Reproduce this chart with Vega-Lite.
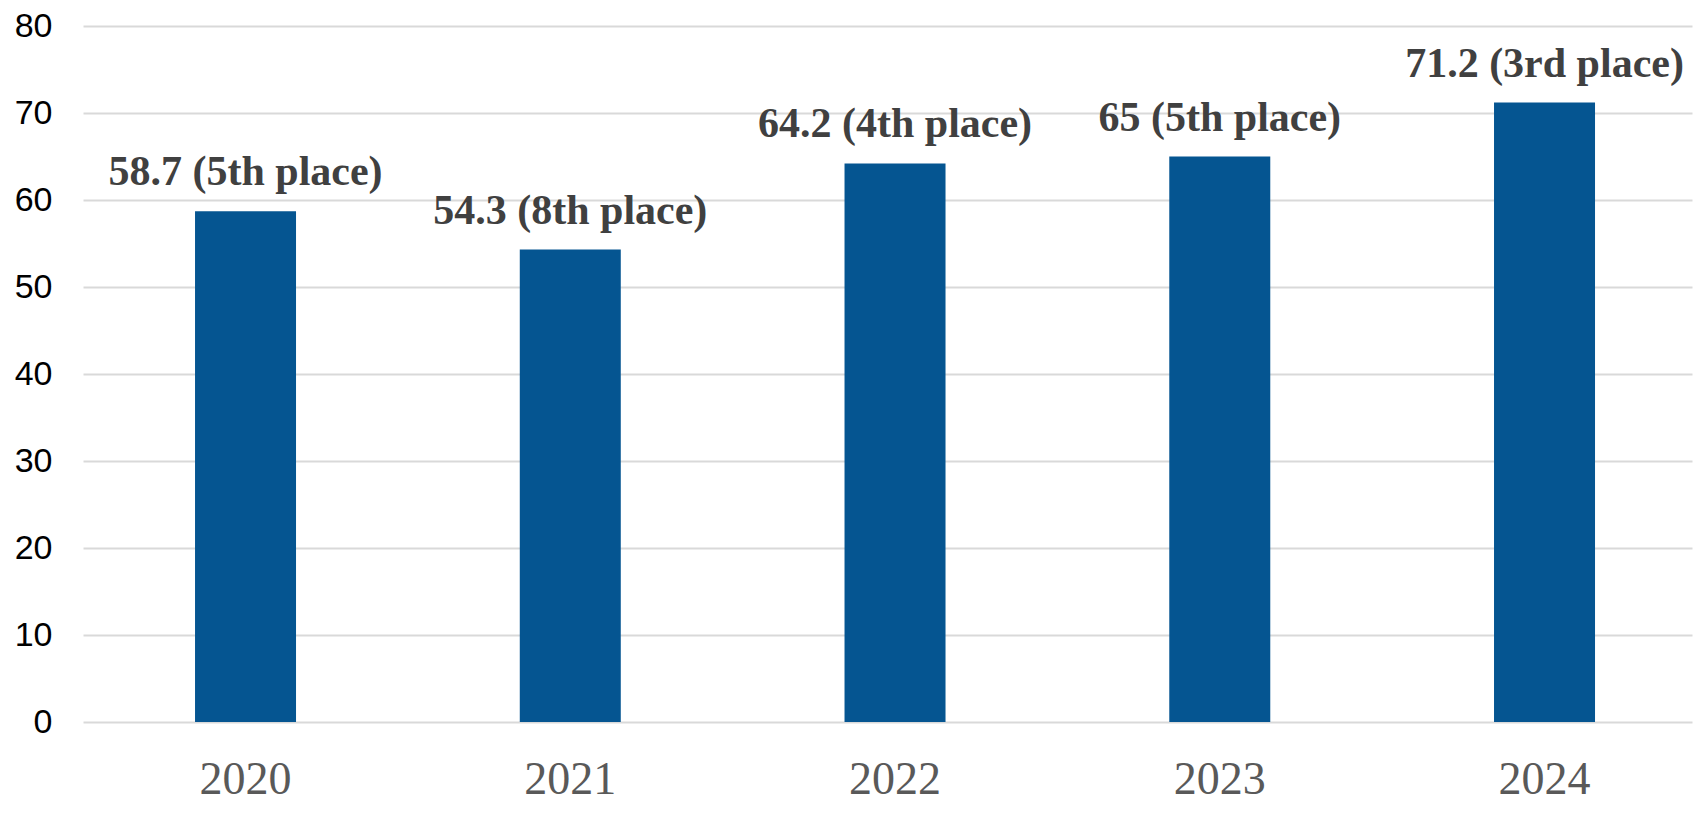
{
  "$schema": "https://vega.github.io/schema/vega-lite/v6.json",
  "width": 1609,
  "height": 696,
  "autosize": "none",
  "padding": {"left": 83, "top": 26, "right": 7, "bottom": 91},
  "background": "white",
  "data": {
    "values": [
      {"year": "2020", "value": 58.7, "label": "58.7 (5th place)"},
      {"year": "2021", "value": 54.3, "label": "54.3 (8th place)"},
      {"year": "2022", "value": 64.2, "label": "64.2 (4th place)"},
      {"year": "2023", "value": 65, "label": "65 (5th place)"},
      {"year": "2024", "value": 71.2, "label": "71.2 (3rd place)"}
    ]
  },
  "encoding": {
    "x": {
      "field": "year",
      "type": "ordinal",
      "sort": null,
      "scale": {"paddingInner": 0.689, "paddingOuter": 0.3218, "align": 0.536},
      "axis": {
        "title": null,
        "labelAngle": 0,
        "domain": false,
        "ticks": false,
        "grid": false,
        "labelFont": "Liberation Serif",
        "labelFontSize": 46,
        "labelColor": "#595959",
        "labelPadding": 35
      }
    },
    "y": {
      "field": "value",
      "type": "quantitative",
      "scale": {"domain": [0, 80], "nice": false},
      "axis": {
        "title": null,
        "values": [0, 10, 20, 30, 40, 50, 60, 70, 80],
        "domain": false,
        "ticks": false,
        "grid": true,
        "gridColor": "#d9d9d9",
        "gridWidth": 2,
        "labelFont": "Liberation Sans",
        "labelFontSize": 34,
        "labelColor": "#000000",
        "labelPadding": 31
      }
    }
  },
  "layer": [
    {"mark": {"type": "bar", "color": "#055591"}},
    {
      "mark": {
        "type": "text",
        "align": "center",
        "baseline": "alphabetic",
        "dy": -26,
        "font": "Liberation Serif",
        "fontSize": 42,
        "fontWeight": "bold",
        "color": "#404040"
      },
      "encoding": {"text": {"field": "label"}}
    }
  ],
  "config": {"view": {"stroke": null}}
}
